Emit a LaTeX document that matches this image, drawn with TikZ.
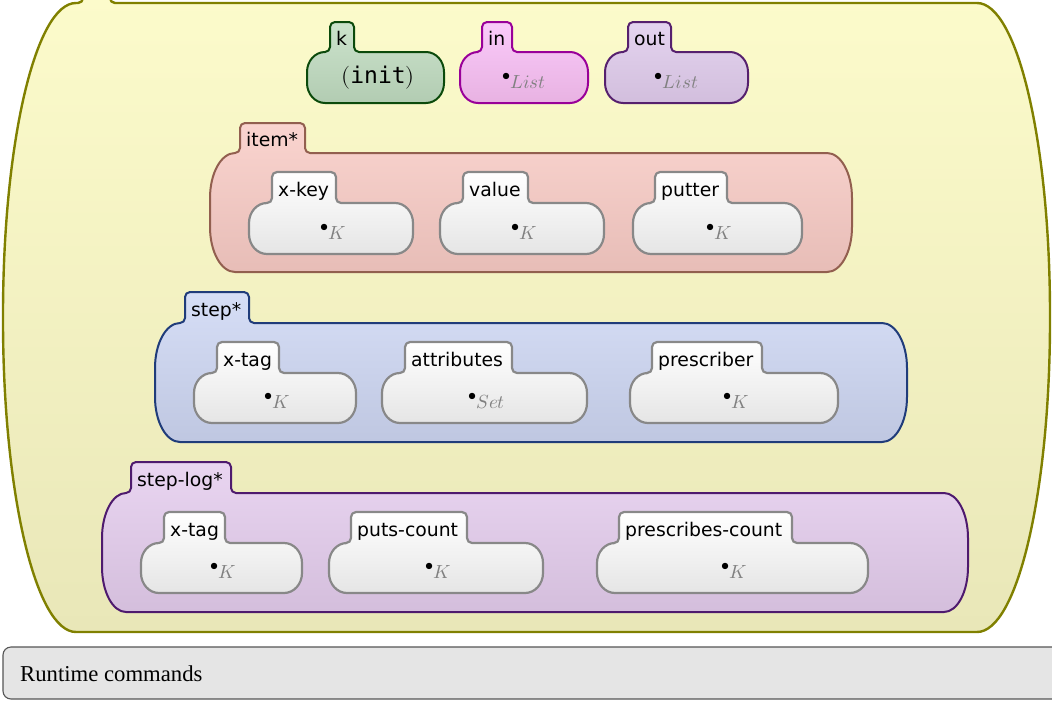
\documentclass[tikz,border=0pt]{standalone}
\usepackage{fontspec}
\usepackage{unicode-math}
\setmathfont{Latin Modern Math}
\usepackage{graphicx}
\newfontfamily\dejavu{DejaVu Sans}
\newfontfamily\dejamono{DejaVu Sans Mono}
\newfontfamily\libserif{Liberation Serif}
\definecolor{olivS}{HTML}{808000}
\definecolor{olivT}{HTML}{FDFCCC}
\definecolor{olivB}{HTML}{E9E7B8}
\definecolor{kS}{HTML}{0B4A0B}
\definecolor{kT}{HTML}{CCE3CC}
\definecolor{kB}{HTML}{B2CCB2}
\definecolor{inS}{HTML}{990099}
\definecolor{inT}{HTML}{FACAFA}
\definecolor{inB}{HTML}{E8B2E2}
\definecolor{outS}{HTML}{56206E}
\definecolor{outT}{HTML}{E4D4EF}
\definecolor{outB}{HTML}{D2BEDD}
\definecolor{itS}{HTML}{925F4F}
\definecolor{itT}{HTML}{FAD4CF}
\definecolor{itB}{HTML}{E7BDB7}
\definecolor{stS}{HTML}{203C7A}
\definecolor{stT}{HTML}{D6DEF6}
\definecolor{stB}{HTML}{BFC7E1}
\definecolor{lgS}{HTML}{4E1A6E}
\definecolor{lgT}{HTML}{E9D5F1}
\definecolor{lgB}{HTML}{D4BEDC}
\definecolor{whS}{HTML}{888888}
\definecolor{whB}{HTML}{E5E5E5}
\definecolor{kgray}{HTML}{808080}
\definecolor{rtF}{HTML}{E5E5E5}
\definecolor{rtS}{HTML}{555555}
\def\qq{0.4477}
\def\tr{5}
\def\ff{5}
\def\bry{20}
\newcommand\blob[9]{%
  \path[#1] (#2,#7-\ff) -- (#2,#4+\tr)
   .. controls (#2,#4+\qq*\tr) and (#2+\qq*\tr,#4) .. (#2+\tr,#4)
   -- (#3-\tr,#4)
   .. controls (#3-\qq*\tr,#4) and (#3,#4+\qq*\tr) .. (#3,#4+\tr)
   -- (#3,#7-\ff)
   .. controls (#3,#7-\qq*\ff) and (#3+\qq*\ff,#7) .. (#3+\ff,#7)
   -- (#6-#9,#7)
   .. controls (#6-\qq*#9,#7) and (#6,#7+\qq*\bry) .. (#6,#7+\bry)
   -- (#6,#8-\bry)
   .. controls (#6,#8-\qq*\bry) and (#6-\qq*#9,#8) .. (#6-#9,#8)
   -- (#5+#9,#8)
   .. controls (#5+\qq*#9,#8) and (#5,#8-\qq*\bry) .. (#5,#8-\bry)
   -- (#5,#7+\bry)
   .. controls (#5,#7+\qq*\bry) and (#5+\qq*#9,#7) .. (#5+#9,#7)
   -- (#2-\ff,#7)
   .. controls (#2-\qq*\ff,#7) and (#2,#7-\qq*\ff) .. (#2,#7-\ff)
   -- cycle;}
\newcommand\bulv[1]{\raisebox{0.42em}{\scalebox{0.85}{$\bullet$}}\textcolor{kgray}{$#1$}}
\tikzset{
  shp/.style={line width=2pt, line join=round},
  outerS/.style={shp, line width=2.4pt, draw=olivS, top color=olivT, bottom color=olivB},
  kSt/.style={shp, draw=kS, top color=kT, bottom color=kB},
  inSt/.style={shp, draw=inS, top color=inT, bottom color=inB},
  outSt/.style={shp, draw=outS, top color=outT, bottom color=outB},
  itemSt/.style={shp, draw=itS, top color=itT, bottom color=itB},
  stepSt/.style={shp, draw=stS, top color=stT, bottom color=stB},
  logSt/.style={shp, draw=lgS, top color=lgT, bottom color=lgB},
  whSt/.style={shp, line width=2.2pt, draw=whS, top color=white, bottom color=whB},
  tablab/.style={font=\dejavu\fontsize{18.8}{21}\selectfont, anchor=base west, inner sep=0pt},
  cont/.style={font=\fontsize{19}{21}\selectfont, anchor=base, inner sep=0pt},
  initval/.style={font=\fontsize{23}{26}\selectfont, anchor=base, inner sep=0pt},
  rtbox/.style={draw=rtS, line width=1.1pt, fill=rtF, rounded corners=8pt},
  rtlab/.style={font=\libserif\fontsize{22.7}{25}\selectfont, anchor=base west, inner sep=0pt}
}
\begin{document}
\begin{tikzpicture}[x=1pt, y=-1pt]
\useasboundingbox (0,0) rectangle (1052,715);
\clip (0,0) rectangle (1052,715);
% outer
\def\bry{312}
\blob{outerS}{83}{110}{-40}{3}{1050}{3}{632}{73}
% top small nodes
\def\bry{20}
\blob{kSt}{330}{354}{22}{307}{444}{52}{103}{18}
\blob{inSt}{482}{512}{22}{460}{588}{52}{103}{18}
\blob{outSt}{628}{671}{22}{605}{748}{52}{103}{18}
\node[tablab] (klab) at (336,45.5) {k};
\node[tablab] (inlab) at (488,45.5) {in};
\node[tablab] (outlab) at (634,45.5) {out};
\node[initval] (kval) at (378,83) {$(${\dejamono init}$)$};
\node[cont] (inval) at (524,88) {\bulv{List}};
\node[cont] (outval) at (676.5,88) {\bulv{List}};
% item*
\def\bry{45}
\blob{itemSt}{240}{305}{123}{210}{852}{153}{272}{25}
\node[tablab] (itemlab) at (246,146.5) {item*};
\def\bry{20}
\blob{whSt}{272}{336}{172}{249}{413}{203}{254}{18}
\blob{whSt}{463}{528}{172}{440}{604}{203}{254}{18}
\blob{whSt}{655}{727}{172}{633}{802}{203}{254}{18}
\node[tablab] (xkeylab) at (278,196.5) {x-key};
\node[tablab] (valuelab) at (469,196.5) {value};
\node[tablab] (putterlab) at (661,196.5) {putter};
\node[cont] (xkeyval) at (333,239) {\bulv{K}};
\node[cont] (valueval) at (524,239) {\bulv{K}};
\node[cont] (putterval) at (719.5,239) {\bulv{K}};
% step*
\def\bry{45}
\blob{stepSt}{185}{249}{292}{155}{907}{323}{442}{25}
\node[tablab] (steplab) at (191,316.5) {step*};
\def\bry{20}
\blob{whSt}{217}{279}{342}{194}{356}{373}{423}{18}
\blob{whSt}{405}{512}{342}{382}{587}{373}{423}{18}
\blob{whSt}{652}{762}{342}{630}{838}{373}{423}{18}
\node[tablab] (xtaglab) at (223,366.5) {x-tag};
\node[tablab] (attrlab) at (411,366.5) {attributes};
\node[tablab] (preslab) at (658,366.5) {prescriber};
\node[cont] (xtagval) at (277,408) {\bulv{K}};
\node[cont] (attrval) at (486.5,408) {\bulv{Set}};
\node[cont] (presval) at (736,408) {\bulv{K}};
% step-log*
\def\bry{45}
\blob{logSt}{131}{231}{462}{102}{968}{493}{612}{24}
\node[tablab] (loglab) at (137,486.5) {step-log*};
\def\bry{20}
\blob{whSt}{164}{225}{512}{141}{302}{543}{593}{18}
\blob{whSt}{351}{467}{512}{329}{543}{543}{593}{18}
\blob{whSt}{619}{792}{512}{597}{868}{543}{593}{18}
\node[tablab] (lxtaglab) at (170,536.5) {x-tag};
\node[tablab] (putslab) at (357,536.5) {puts-count};
\node[tablab] (prcntlab) at (625,536.5) {prescribes-count};
\node[cont] (lxtagval) at (223.5,578) {\bulv{K}};
\node[cont] (putsval) at (438,578) {\bulv{K}};
\node[cont] (prcntval) at (734.5,578) {\bulv{K}};
% runtime commands
\draw[rtbox] (3,647) rectangle (1080,699);
\node[rtlab] (rtlabel) at (20,681) {Runtime commands};
\end{tikzpicture}
\end{document}
